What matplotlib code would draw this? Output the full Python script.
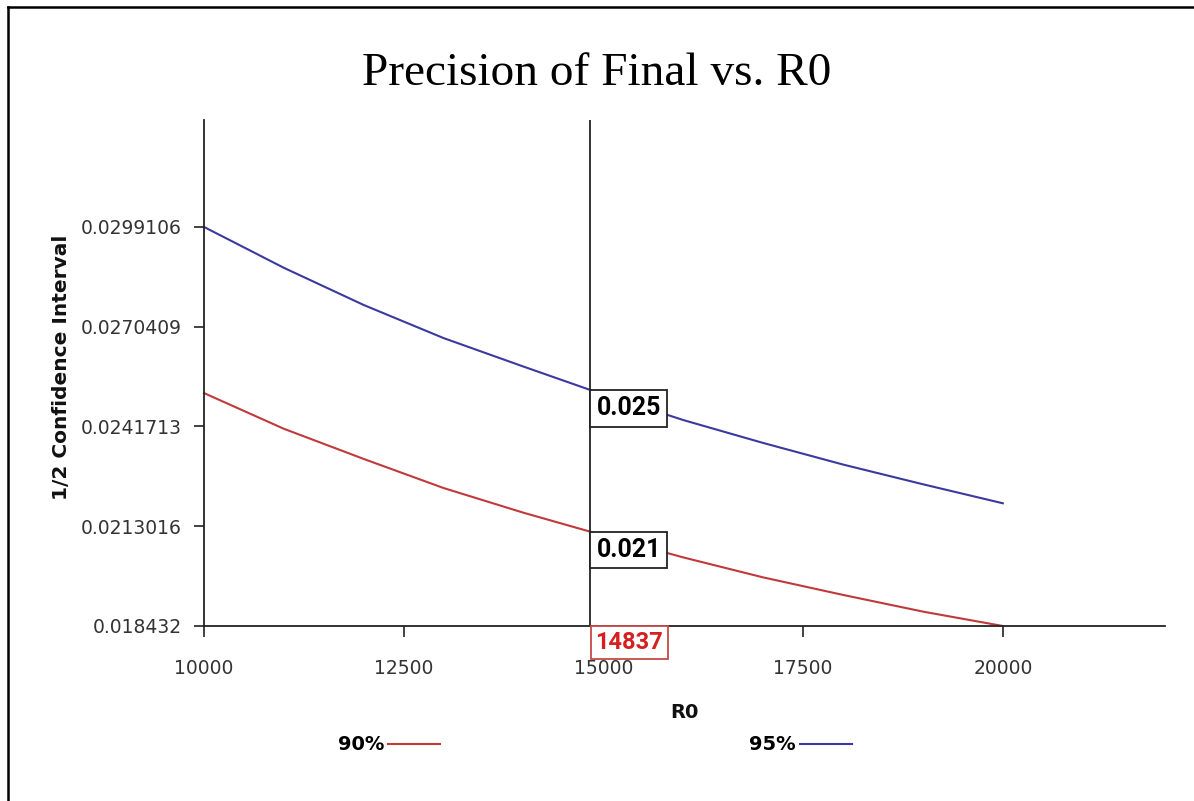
import matplotlib
matplotlib.use("Agg")
import matplotlib.pyplot as plt
from matplotlib.lines import Line2D

# Data
r0 = [10000, 11000, 12000, 13000, 14000, 14837, 15000, 16000, 17000, 18000, 19000, 20000]
ci_95 = [0.0299106, 0.028735, 0.027665, 0.026713, 0.025894, 0.02522,
         0.025103, 0.024356, 0.023697, 0.023076, 0.022509, 0.021962]
ci_90 = [0.025132, 0.024105, 0.023237, 0.0224, 0.02169, 0.021144,
         0.021034, 0.020405, 0.01983, 0.019326, 0.018846, 0.018432]
marker_r0 = 14837
x_ticks = [10000, 12500, 15000, 17500, 20000]
y_tick_labels = ["0.018432", "0.0213016", "0.0241713", "0.0270409", "0.0299106"]

red = "#c0393b"
blue = "#3a3a9e"

W, H = 1194, 801
fig = plt.figure(figsize=(W / 100, H / 100), dpi=100)
fig.patch.set_facecolor("white")

# axes placed in pixel terms
ax = fig.add_axes([204 / W, 1 - 626 / H, (1165 - 204) / W, (626 - 120) / H])

ax.plot(r0, ci_90, color=red, linewidth=1.5, label="90%", clip_on=False)
ax.plot(r0, ci_95, color=blue, linewidth=1.5, label="95%", clip_on=False)

y_ticks = [float(t) for t in y_tick_labels]
ax.set_xlim(10000, 22030)
ax.set_ylim(y_ticks[0], 0.032987)
ax.set_xticks(x_ticks)
ax.set_xticklabels([str(t) for t in x_ticks])
ax.set_yticks(y_ticks)
ax.set_yticklabels(y_tick_labels)

for s in ["top", "right"]:
    ax.spines[s].set_visible(False)
for s in ["left", "bottom"]:
    ax.spines[s].set_color("#222222")
    ax.spines[s].set_linewidth(1.3)

ax.tick_params(axis="y", direction="out", length=7, width=1.2, pad=9,
               labelsize=13.5, colors="#222222", labelcolor="#333333")
ax.tick_params(axis="x", direction="out", length=8, width=1.2, pad=16,
               labelsize=13.5, colors="#222222", labelcolor="#333333")

# vertical marker line
ax.axvline(marker_r0, color="#222222", linewidth=1.3)

# value boxes at the marker
i = r0.index(marker_r0)
box = dict(boxstyle="square,pad=0.25", facecolor="white", edgecolor="#222222", linewidth=1.3)
for series in (ci_95, ci_90):
    ax.annotate(f"{series[i]:.3f}", xy=(marker_r0, series[i]), xytext=(4.5, -4.5),
                textcoords="offset points", ha="left", va="top",
                fontsize=18, fontweight="bold", family="Roboto",
                color="black", bbox=box, zorder=5)

ax.annotate(str(marker_r0), xy=(marker_r0, y_ticks[0]), xytext=(3.5, -3.5),
            textcoords="offset points", ha="left", va="top",
            fontsize=17, fontweight="bold", family="Roboto",
            color="#d42020", annotation_clip=False,
            bbox=dict(boxstyle="square,pad=0.2", facecolor="white",
                      edgecolor="#c84848", linewidth=1.3), zorder=5)

# title and axis labels
fig.text(0.5, 1 - 85 / H, "Precision of Final vs. R0", ha="center", va="baseline",
         fontsize=34, family="Liberation Serif", color="black")
fig.text(684.5 / W, 1 - 713 / H, "R0", ha="center", va="center",
         fontsize=14, fontweight="bold", color="#111111")
fig.text(62 / W, 1 - 367 / H, "1/2 Confidence Interval", ha="center", va="center",
         rotation=90, fontsize=14.5, fontweight="bold", color="#111111")

# legend below the chart
ax.legend(loc="center left", bbox_to_anchor=(338 / W, 1 - 745 / H),
          bbox_transform=fig.transFigure, ncol=2, frameon=False,
          markerfirst=False, handlelength=2.67, handletextpad=0.2,
          columnspacing=15.9, borderpad=0, borderaxespad=0,
          prop={"weight": "bold", "size": 14})

# outer frame (left and top edges)
fig.add_artist(Line2D([8 / W, 8 / W], [0, 1 - 7 / H], transform=fig.transFigure,
                      color="black", linewidth=1.8))
fig.add_artist(Line2D([8 / W, 1], [1 - 7 / H, 1 - 7 / H], transform=fig.transFigure,
                      color="black", linewidth=1.8))

fig.savefig("out.png", dpi=100)
plt.close(fig)
